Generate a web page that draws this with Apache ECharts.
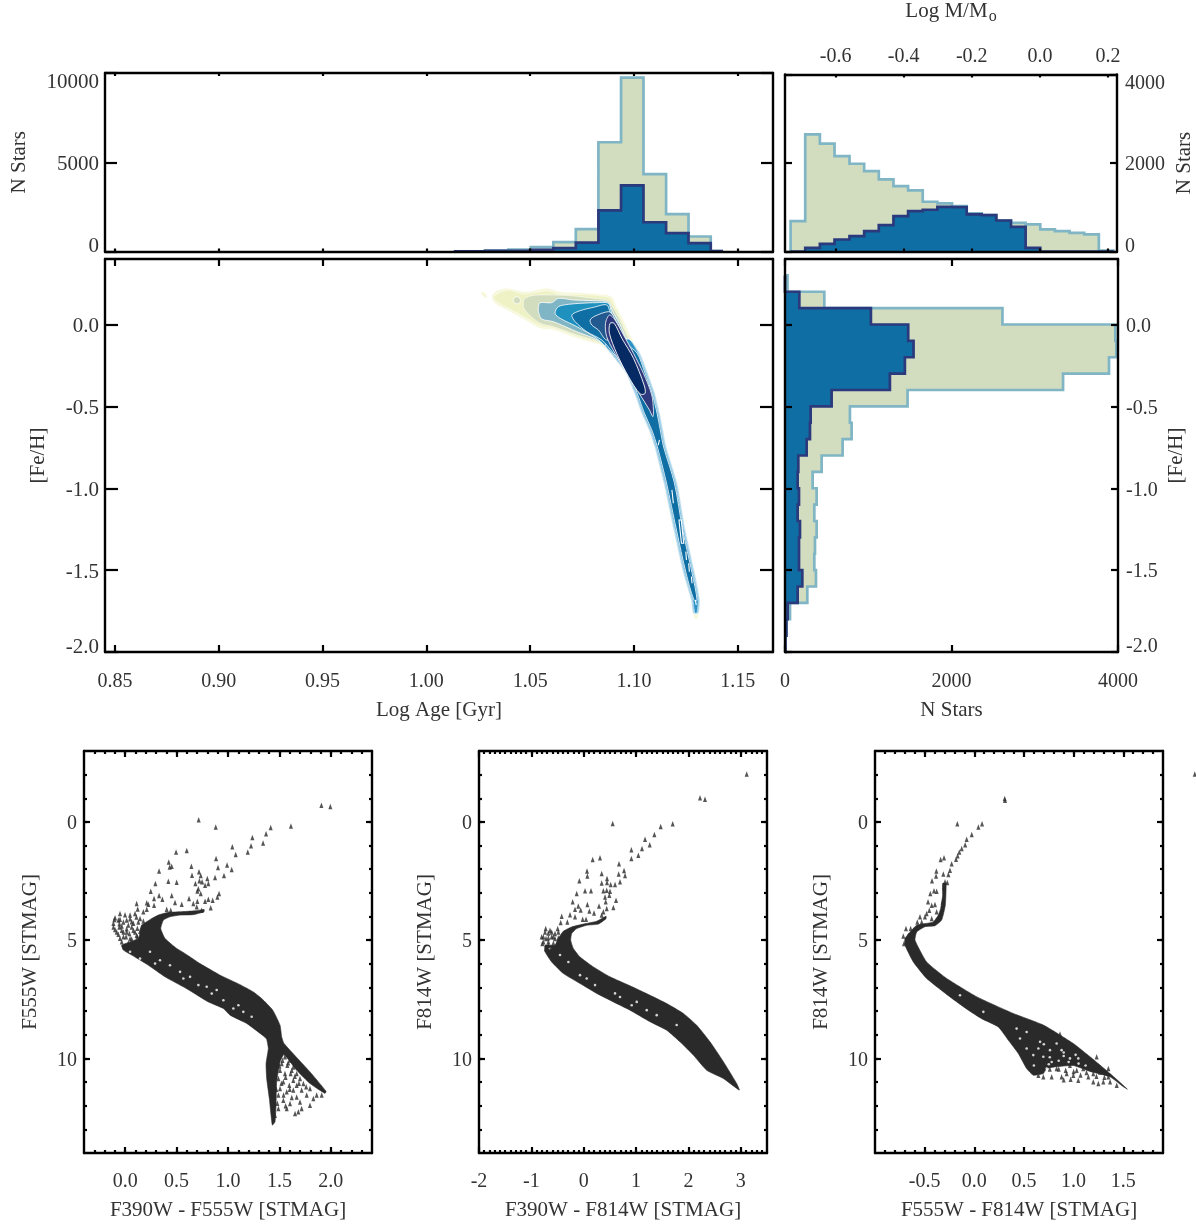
<!DOCTYPE html>
<html><head><meta charset="utf-8">
<style>html,body{margin:0;padding:0;background:#fff}#c{width:1196px;height:1226px}</style>
<script src="https://cdn.jsdelivr.net/npm/echarts@6/dist/echarts.min.js"></script>
</head><body><div id="c"></div>
<script>
// ---------- histogram data ----------
const ageEdges=[1.0139,1.0283,1.0395,1.0503,1.0612,1.0720,1.0829,1.0938,1.1046,1.1155,1.1263,1.1370,1.1423];
const ageAll=[15,55,110,240,520,1250,6120,9740,4330,2090,840,20];
const ageSel=[15,30,35,90,185,500,2300,3700,1640,1025,465,20];
const massEdges=[-0.732,-0.689,-0.646,-0.603,-0.559,-0.516,-0.473,-0.430,-0.387,-0.344,-0.301,-0.258,-0.215,-0.171,-0.128,-0.085,-0.042,0.001,0.044,0.087,0.130,0.173,0.216];
const massAll=[686,2647,2436,2157,1983,1817,1629,1478,1380,1124,1086,1026,860,822,700,649,611,498,460,422,385,20];
const massSel=[0,83,173,271,347,460,596,800,912,943,1010,1003,837,822,701,558,83,0,0,0,0,0];
const fehEdges=[0.3,0.2,0.1,0,-0.1,-0.2,-0.3,-0.4,-0.5,-0.6,-0.7,-0.8,-0.9,-1.0,-1.1,-1.2,-1.3,-1.4,-1.5,-1.6,-1.7,-1.8,-1.9,-2.0];
const fehAll=[30,472,2612,3968,3980,3892,3340,1472,780,800,692,440,332,380,352,380,360,352,372,268,60,20,5];
const fehSel=[0,172,1032,1480,1544,1440,1260,560,308,300,260,160,152,168,152,180,168,168,208,152,32,16,5];

// ---------- tick values ----------
const ageTicks=[0.85,0.90,0.95,1.00,1.05,1.10,1.15];
const fehTicks=[-2.0,-1.5,-1.0,-0.5,0.0];
const nAgeTicks=[0,5000,10000];
const nMassTicks=[0,2000,4000];
const massTicks=[-0.6,-0.4,-0.2,0.0,0.2];
const cmdMagTicks=[0,5,10];
const cmdATicks=[0.0,0.5,1.0,1.5,2.0];
const cmdBTicks=[-2,-1,0,1,2,3];
const cmdCTicks=[-0.5,0.0,0.5,1.0,1.5];

// ---------- age / metallicity density contours ----------
const ridgeFeh=[-0.174,-0.296,-0.418,-0.540,-0.644,-0.748,-0.968,-1.255,-1.517,-1.682,-1.762];
const ridgeLeft=[1.0885,1.0959,1.1000,1.1035,1.1071,1.1098,1.1142,1.1190,1.1236,1.1274,1.1284];
const ridgeRight=[1.1030,1.1068,1.1102,1.1126,1.1142,1.1158,1.1210,1.1250,1.1295,1.1319,1.1313];
const ridgeTip=[[1.1300,-1.805]];
const levelInsets=[0,0.0001,0.0002,0.0003,0.0005,0.0015];
const ridgeHaloInsets=[0.00022,0.00058,0.00095];
const ridgeHaloColors=['#6DB9DF','#45A3D4','#2B92C6'];
const ridgeHaloTop=[[1.0976,-0.09]];
const ridgeHaloBottom=[[1.0862,-0.125]];
const levelATop=[[1.0315,0.170],[1.0331,0.2005],[1.0388,0.221],[1.0468,0.2005],[1.0516,0.2066],[1.0580,0.221],[1.0645,0.2005],[1.0741,0.194],[1.0837,0.186],[1.0893,0.170],[1.0917,0.109],[1.0950,0.0275],[1.0990,-0.0845]];
const levelABottom=[[1.0853,-0.139],[1.0837,-0.125],[1.0725,-0.0845],[1.0612,-0.0336],[1.0548,-0.0234],[1.0476,0.0275],[1.0404,0.0784],[1.0331,0.129]];
const levelBTop=[[1.0323,0.170],[1.0347,0.190],[1.0396,0.2107],[1.0468,0.186],[1.0516,0.194],[1.0580,0.2066],[1.0645,0.186],[1.0741,0.184],[1.0837,0.176],[1.0885,0.160],[1.0911,0.105],[1.0943,0.0234],[1.0983,-0.0845]];
const levelBBottom=[[1.0845,-0.125],[1.0725,-0.0743],[1.0612,-0.0234],[1.0548,-0.0092],[1.0476,0.0438],[1.0404,0.0926],[1.0339,0.1394]];
const levelCTop=[[1.0468,0.129],[1.0471,0.1537],[1.0508,0.176],[1.0580,0.180],[1.0693,0.176],[1.0805,0.160],[1.0877,0.1455],[1.0905,0.0926],[1.0937,0.0173],[1.0977,-0.0906]];
const levelCBottom=[[1.0837,-0.1109],[1.0725,-0.0641],[1.0612,-0.0132],[1.0548,0.0071],[1.0492,0.0641],[1.0468,0.1048]];
const levelDTop=[[1.0540,0.1089],[1.0548,0.1333],[1.0604,0.1333],[1.0636,0.1598],[1.0709,0.1496],[1.0805,0.1455],[1.0877,0.1354],[1.0898,0.0784],[1.0930,0.0071],[1.0970,-0.0987]];
const levelDBottom=[[1.0829,-0.0987],[1.0725,-0.0438],[1.0612,0.0173],[1.0556,0.0336],[1.0540,0.0784]];
const levelETop=[[1.0620,0.0682],[1.0636,0.1089],[1.0685,0.1232],[1.0741,0.1293],[1.0821,0.1333],[1.0877,0.1293],[1.0893,0.0682],[1.0924,-0.0031],[1.0964,-0.1048]];
const levelEBottom=[[1.0821,-0.0845],[1.0725,-0.0132],[1.0645,0.0377]];
const levelFTop=[[1.0701,0.058],[1.0741,0.0845],[1.0805,0.1048],[1.0869,0.1191],[1.0889,0.058],[1.0917,-0.0132],[1.0958,-0.1109]];
const levelFBottom=[[1.0845,-0.0947],[1.0773,-0.0438],[1.0717,0.0173]];
const levelG=[[1.0789,0.0275],[1.0813,0.0519],[1.0877,0.0784],[1.0898,0.058],[1.0925,-0.0132],[1.0950,-0.0743],[1.0869,-0.0947],[1.0829,-0.0336],[1.0797,-0.0031]];
const levelH=[[1.0882,0.058],[1.0909,0.0275],[1.0950,-0.0641],[1.0998,-0.1761],[1.1046,-0.2982],[1.1086,-0.4305],[1.1094,-0.5221],[1.1091,-0.5628],[1.1075,-0.5221],[1.1030,-0.4305],[1.0966,-0.2982],[1.0909,-0.1761],[1.0869,-0.0743],[1.0863,0.0071]];
const levelI=[[1.0885,0.0071],[1.0905,0.0071],[1.0942,-0.0845],[1.0998,-0.2066],[1.1049,-0.3695],[1.1054,-0.4203],[1.1030,-0.4244],[1.0974,-0.3186],[1.0917,-0.1761],[1.0882,-0.0539]];
const outlierBlob=[[1.0262,0.194],[1.0278,0.198],[1.0294,0.170],[1.0288,0.160],[1.0273,0.174]];
const sageIsland=[[1.0420,0.1537],[1.0436,0.170],[1.0452,0.1537],[1.0449,0.1333],[1.0428,0.129]];
const ridgeIslands=[
 [[1.1123,-0.705],[1.1117,-0.736]],
 [[1.1183,-1.010],[1.1190,-1.092]],
 [[1.1217,-1.194],[1.1228,-1.194],[1.1240,-1.336],[1.1229,-1.336]],
 [[1.1250,-1.387],[1.1253,-1.438]],
 [[1.1264,-1.458],[1.1267,-1.510]],
 [[1.1277,-1.540],[1.1280,-1.580]],
 [[1.1296,-1.682],[1.1300,-1.713]]
];

// ---------- colour-magnitude diagrams ----------
const cmdAStars=[[1.908,-0.71],[1.995,-0.65],[0.715,-0.09],[0.881,0.21],[1.415,0.24],[1.612,0.17],[1.237,0.66],[1.370,0.50],[1.341,0.89],[1.224,1.01],[1.042,1.05],[1.075,1.38],[1.192,1.27],[0.884,1.55],[0.495,1.27],[0.599,1.21],[0.424,1.69],[0.453,1.87],[0.433,1.91],[0.644,1.87],[0.330,2.07],[0.903,1.93],[0.991,1.82],[1.036,2.01],[0.961,2.27],[0.874,2.35],[0.650,2.25],[0.718,2.11],[0.735,2.27],[0.294,2.60],[0.420,2.51],[0.501,2.55],[0.683,2.60],[0.722,2.49],[0.748,2.53],[0.799,2.39],[0.809,2.60],[0.777,2.68],[0.712,2.82],[0.702,2.92],[0.735,3.03],[0.249,2.93],[0.330,3.11],[0.453,3.11],[0.362,3.27],[0.281,3.24],[0.621,3.24],[0.913,3.03],[0.897,3.17],[0.851,3.31],[0.809,3.27],[0.777,3.35],[0.702,3.35],[0.663,3.45],[0.112,3.45],[0.122,3.68],[0.210,3.42],[0.226,3.48],[0.281,3.52],[0.485,3.41],[0.550,3.48],[0.832,3.63],[0.744,3.73],[0.696,3.59],[0.210,3.69],[0.404,3.69],[0.443,3.73],[-0.050,3.87],[-0.001,3.92],[0.048,3.94],[0.096,3.87],[0.177,3.80],[-0.105,4.13],[-0.066,4.15],[-0.114,4.44],[-0.056,4.44],[0.064,4.22],[0.015,4.15],[-0.033,4.58],[0.015,4.65],[-0.082,4.65],[0.080,4.58],[-0.017,4.86],[0.048,4.93],[0.112,4.79],
 [-0.098,4.05],[-0.050,4.12],[0.048,4.09],[0.110,4.02],[0.145,4.08],
 [-0.114,4.28],[-0.056,4.31],[-0.017,4.23],[0.031,4.36],[0.080,4.28],[0.128,4.23],[0.177,4.19],
 [-0.098,4.55],[-0.033,4.40],[0.015,4.52],[0.064,4.44],[0.119,4.50],[0.161,4.44],
 [-0.066,4.75],[-0.017,4.65],[0.041,4.72],[0.096,4.65],[0.145,4.62],
 [-0.050,4.92],[0.009,4.86],[0.064,4.95],[0.119,4.86],
 [-0.033,5.07],[0.031,5.12],[0.096,5.07],[0.145,5.03],
 [1.506,9.86],[1.554,9.93],[1.603,10.07],[1.522,10.22],[1.577,10.29],[1.635,10.36],[1.668,10.64],[1.506,10.50],[1.554,10.64],[1.609,10.64],[1.700,10.85],[1.635,10.92],[1.490,10.85],[1.538,10.99],[1.596,11.13],[1.668,11.13],[1.733,11.06],[1.506,11.27],[1.571,11.41],[1.635,11.34],[1.716,11.34],[1.797,11.27],[1.862,11.55],[1.911,11.55],[1.490,11.55],[1.538,11.77],[1.603,11.91],[1.668,11.63],[1.797,11.98],[1.716,12.12],[1.652,12.33],[1.684,12.26],[1.571,12.12],[1.490,12.12],[1.457,12.40],[1.830,11.70],[1.765,11.55],[1.700,11.84],
 [1.530,10.08],[1.585,10.18],[1.500,10.32],[1.620,10.50],[1.560,10.80],[1.650,10.75],[1.520,11.05],[1.600,11.30],[1.690,11.05],[1.760,11.20],[1.540,11.55],[1.620,11.65],[1.470,11.30],[1.480,11.90],[1.560,12.00]];
const cmdABand=[[0.767,3.70],[0.680,3.76],[0.534,3.80],[0.411,3.83],[0.323,3.94],[0.249,4.11],[0.161,4.37],[0.129,4.93],[-0.033,5.21],[-0.017,5.42],[0.096,5.71],[0.226,6.06],[0.388,6.55],[0.598,7.05],[0.809,7.61],[0.955,7.89],[1.020,8.17],[1.182,8.52],[1.344,9.05],[1.376,9.19],[1.392,9.58],[1.370,10.22],[1.376,10.85],[1.402,11.70],[1.431,12.82],[1.457,12.68],[1.467,11.98],[1.473,10.99],[1.506,10.15],[1.545,9.84],[1.668,10.50],[1.797,11.06],[1.943,11.48],[1.953,11.39],[1.797,10.57],[1.545,9.37],[1.522,9.09],[1.506,8.60],[1.435,7.96],[1.328,7.47],[1.247,7.19],[1.117,6.88],[0.923,6.48],[0.728,5.99],[0.566,5.52],[0.501,5.35],[0.388,4.93],[0.346,4.51],[0.372,4.15],[0.436,4.01],[0.534,3.94],[0.663,3.92],[0.767,3.80]];
const cmdAGaps=[[0.242,5.49],[0.339,5.85],[0.436,6.06],[0.566,6.62],[0.631,6.55],[0.793,6.97],[0.842,7.26],[0.955,7.54],[1.052,7.89],[1.149,8.03],[1.230,8.24],[0.048,5.49],[0.145,5.78],[0.534,6.34],[0.291,5.99],[0.712,6.90],[0.890,7.11],[1.101,7.75]];

const cmdBStars=[[3.112,-2.03],[2.221,-1.02],[2.316,-0.96],[0.553,0.07],[1.699,0.08],[1.470,0.19],[1.349,0.53],[1.171,0.73],[1.260,0.96],[1.113,1.12],[0.910,1.18],[0.910,1.55],[1.043,1.41],[0.674,1.77],[0.311,1.51],[0.171,1.59],[0.063,2.07],[0.070,2.29],[0.343,2.18],[0.668,2.20],[0.770,2.05],[0.789,2.27],[0.693,2.53],[0.598,2.65],[-0.084,2.49],[0.343,2.58],[0.445,2.39],[0.445,2.56],[0.515,2.65],[-0.134,3.03],[0.025,2.91],[0.139,2.91],[0.375,2.91],[0.439,2.89],[0.502,2.93],[0.407,3.17],[0.489,3.10],[-0.211,3.38],[-0.103,3.56],[0.070,3.49],[-0.166,3.69],[-0.058,3.72],[0.108,3.77],[0.197,3.85],[0.292,3.56],[0.420,3.38],[0.617,3.31],[0.566,3.62],[-0.262,3.92],[-0.166,4.01],[-0.421,3.99],[-0.440,4.25],[-0.313,4.23],[-0.020,4.11],[0.044,4.11],[-0.497,4.51],[-0.726,4.51],[-0.644,4.58],[-0.803,4.86],[-0.720,4.93],[-0.612,4.86],[-0.790,5.14],[-0.675,5.21],[-0.548,4.93],[0.375,3.80],[0.439,3.66],[0.343,3.94],
 [-0.739,4.65],[-0.675,4.70],[-0.612,4.65],[-0.548,4.72],[-0.484,4.65],
 [-0.771,4.86],[-0.675,4.90],[-0.580,4.86],[-0.484,4.90],
 [-0.771,5.07],[-0.675,5.07],[-0.580,5.12],[-0.503,5.07],
 [-0.720,5.35],[-0.631,5.35],[-0.529,5.35]];
const cmdBBand=[[0.426,3.99],[0.248,4.20],[-0.007,4.32],[-0.230,4.44],[-0.389,4.62],[-0.466,4.86],[-0.548,5.21],[-0.739,5.21],[-0.739,5.49],[-0.612,5.92],[-0.389,6.41],[-0.071,6.83],[0.248,7.25],[0.566,7.61],[0.884,7.96],[1.267,8.45],[1.585,8.81],[1.839,9.30],[2.093,9.86],[2.348,10.50],[2.667,10.85],[2.971,11.34],[2.921,11.06],[2.667,10.14],[2.412,9.30],[2.158,8.60],[1.903,8.10],[1.585,7.68],[1.267,7.33],[0.884,6.93],[0.502,6.55],[0.184,6.13],[-0.071,5.71],[-0.198,5.35],[-0.249,5.00],[-0.230,4.72],[-0.134,4.51],[0.057,4.37],[0.280,4.32],[0.426,4.09]];
const cmdBGaps=[[-0.453,5.63],[-0.293,5.92],[-0.071,6.48],[0.216,6.90],[0.598,7.25],[0.693,7.40],[0.916,7.75],[1.203,7.96],[1.394,8.17],[1.775,8.59],[-0.644,5.35],[0.057,6.62],[1.012,7.61]];

const cmdCStars=[[0.306,-0.99],[0.309,-0.92],[-0.171,0.08],[0.078,0.08],[0.041,0.21],[-0.026,0.53],[-0.077,0.73],[-0.092,0.96],[-0.127,1.12],[-0.151,1.27],[-0.168,1.43],[-0.184,1.58],[-0.305,1.51],[-0.339,1.59],[-0.228,1.77],[-0.245,2.04],[-0.261,2.22],[-0.382,2.07],[-0.385,2.29],[-0.312,2.20],[-0.426,2.49],[-0.295,2.53],[-0.272,2.56],[-0.305,2.74],[-0.443,3.03],[-0.406,2.91],[-0.379,2.93],[-0.466,3.38],[-0.429,3.52],[-0.453,3.73],[-0.396,3.49],[-0.319,3.38],[-0.379,3.80],[-0.480,3.87],[-0.497,4.01],[-0.547,4.01],[-0.574,4.23],[-0.530,4.23],[-0.429,4.08],[-0.688,4.51],[-0.641,4.51],[-0.614,4.58],[-0.715,4.82],[-0.664,4.79],[-0.708,5.14],[1.232,9.93],[1.350,10.43],[0.863,8.97],[2.22,-2.03],
 [0.829,10.43],[0.879,10.78],[0.930,10.64],[0.963,10.29],[1.031,10.50],[1.047,10.92],[1.097,10.43],[1.148,10.78],[1.198,10.99],[1.249,11.06],[1.299,10.99],[0.779,10.78],[0.896,10.15],[1.097,10.15],[0.997,10.71],[1.367,10.99],[1.434,11.13],[0.645,10.71],[0.695,10.78],[1.198,10.64],[1.265,10.57],[1.350,10.78],
 [0.760,10.45],[0.850,10.45],[0.920,10.50],[1.000,10.55],[1.070,10.70],[1.130,10.60],[1.230,10.75],[1.310,10.80],[0.970,10.88],[0.900,10.90]];
const cmdCBand=[[-0.285,2.60],[-0.292,3.52],[-0.329,4.15],[-0.396,4.39],[-0.496,4.43],[-0.580,4.65],[-0.597,5.00],[-0.480,5.92],[-0.278,6.62],[0.023,7.39],[0.393,8.10],[0.695,8.59],[0.997,9.37],[1.165,9.93],[1.367,10.64],[1.541,11.30],[1.501,11.20],[1.367,10.78],[1.165,10.55],[0.997,10.30],[0.829,10.35],[0.729,10.42],[0.695,10.64],[0.594,10.71],[0.527,10.43],[0.443,9.79],[0.343,9.23],[0.242,8.67],[0.074,8.32],[-0.060,7.96],[-0.245,7.40],[-0.480,6.62],[-0.614,5.92],[-0.698,5.21],[-0.698,4.93],[-0.630,4.58],[-0.580,4.37],[-0.496,4.30],[-0.413,4.23],[-0.362,3.94],[-0.339,3.66],[-0.319,3.10],[-0.319,2.60]];
const cmdCGaps=[[0.662,9.30],[0.762,9.65],[0.879,9.65],[0.645,9.58],[0.527,8.88],[0.426,8.74],[0.695,9.93],[0.779,10.15],[0.963,10.0],[1.047,10.0],[0.594,9.86],[0.729,10.43],[-0.144,7.33],[0.091,8.03],[0.829,9.37],[0.527,9.58],[0.460,9.16],[0.900,9.90],[0.760,9.95],[0.600,10.30],[0.700,9.40],[0.850,10.10],[0.950,10.15],[1.050,10.22],[0.750,10.25],[0.900,9.75],[1.120,10.30],[1.020,9.85]];

// ---------- styling ----------
const FONT='Liberation Serif', TXT='#333', INK='#2a2a2a';
const LIGHT_FILL='#D2DDBF', LIGHT_LINE='#7FB5C4', DARK_FILL='#0F6EA3', DARK_LINE='#2A3A7C';
const LEVEL_COLORS=['#F6F7D8','#EFF2C4','#D2DDBF','#7FB5C4','#1E91BF','#0F6EA3'];

const grids=[],xAxes=[],yAxes=[],series=[];
function steps(a,b,s){const o=[];const n=Math.round((b-a)/s);for(let i=1;i<n;i++)o.push(+(a+i*s).toFixed(3));return o;}

function axisDef(kind,gridIndex,pos,range,inv,ticks,tickLen,opt){
  opt=opt||{};
  const fs=opt.fontSize||20;
  const txt=v=>opt.dec===undefined?String(v):Number(v).toFixed(opt.dec);
  const a={type:'value',gridIndex,position:pos,min:range[0],max:range[1],inverse:!!inv,z:5,
    splitLine:{show:false},silent:true,
    axisLine:{show:opt.hideLine?false:true,onZero:false,lineStyle:{color:'#000',width:2.4}},
    axisTick:{show:true,inside:true,length:tickLen,customValues:ticks,lineStyle:{color:'#000',width:2.2}},
    axisLabel:opt.labels?{show:true,customValues:opt.labels,margin:opt.margin||8,fontFamily:FONT,fontSize:fs,color:TXT,
      hideOverlap:false,showMinLabel:true,showMaxLabel:true,
      formatter:kind==='y'?(v=>'{t|'+txt(v)+'}'):txt,
      ...(kind==='y'?{rich:{t:{fontFamily:FONT,fontSize:fs,color:TXT,lineHeight:14,padding:[4,0,0,0]}}}:{}),
      ...(opt.labelExtra||{})}:{show:false}};
  if(opt.name){a.name=opt.name;a.nameLocation='middle';a.nameGap=opt.nameGap;
    a.nameTextStyle={fontFamily:FONT,fontSize:opt.nameSize||21,color:TXT,...(opt.nameStyle||{})};
    if(kind==='y')a.nameRotate=90;}
  (kind==='x'?xAxes:yAxes).push(a);
  return (kind==='x'?xAxes:yAxes).length-1;
}
function panel(r,xr,yr,o){
  const g=grids.length;
  grids.push({left:r[0],top:r[1],width:r[2],height:r[3],containLabel:false});
  const xi=axisDef('x',g,'bottom',xr,false,o.xTicks,o.xLen,o.xBottom);
  axisDef('x',g,'top',xr,false,o.xTicks,o.xLen,o.xTop);
  const yi=axisDef('y',g,'left',yr,o.invY,o.yTicks,o.yLen,o.yLeft);
  axisDef('y',g,'right',yr,o.invY,o.yTicks,o.yLen,o.yRight);
  if(o.xMinor){
    axisDef('x',g,'bottom',xr,false,o.xMinor,3,{hideLine:true});
    axisDef('x',g,'top',xr,false,o.xMinor,3,{hideLine:true});
  }
  if(o.yMinor){
    axisDef('y',g,'left',yr,o.invY,o.yMinor,3,{hideLine:true});
    axisDef('y',g,'right',yr,o.invY,o.yMinor,3,{hideLine:true});
  }
  return {xi,yi};
}
function shape(name,pts,ax,fill,stroke,lw,closed,z,smooth){
  series.push({type:'custom',name,coordinateSystem:'cartesian2d',xAxisIndex:ax.xi,yAxisIndex:ax.yi,
    data:pts,encode:{x:0,y:1},silent:true,animation:false,z:z||2,clip:false,
    renderItem:(p,api)=>{
      if(p.dataIndex!==0)return null;
      const s={points:pts.map(q=>api.coord(q))};
      if(smooth)s.smooth=smooth;
      return {type:closed?'polygon':'polyline',shape:s,
        style:{fill:closed?fill:'none',stroke,lineWidth:lw,lineJoin:'miter'}};
    }});
}
function stepPts(edges,vals,horizontal){
  const o=[[edges[0],0]];
  vals.forEach((v,i)=>{o.push([edges[i],v]);o.push([edges[i+1],v]);});
  o.push([edges[vals.length],0]);
  return horizontal?o.map(p=>[p[1],p[0]]):o;
}
function hist(nameTag,edges,all,sel,ax,horizontal){
  const a=stepPts(edges,all,horizontal),b=stepPts(edges,sel,horizontal);
  shape(nameTag+' all fill',a,ax,LIGHT_FILL,'none',0,true,2);
  shape(nameTag+' all',a,ax,'none',LIGHT_LINE,2.7,false,2);
  shape(nameTag+' selected fill',b,ax,DARK_FILL,'none',0,true,3);
  shape(nameTag+' selected',b,ax,'none',DARK_LINE,2.7,false,3);
}
function level(top,bottom,inset,tip){
  const right=[],left=[];
  ridgeFeh.forEach((f,i)=>{
    if((ridgeRight[i]-ridgeLeft[i])/2>inset+0.00012){
      right.push([ridgeRight[i]-inset,f]);
      left.unshift([ridgeLeft[i]+inset,f]);
    }
  });
  return top.concat(right,tip||[],left,bottom);
}

// ---------- panels ----------
const AGE_R=[0.8452,1.167], FEH_R=[-2,0.4], MASS_R=[-0.7484,0.2263];

const pAge=panel([105,73,668,178.5],AGE_R,[0,10000],{xTicks:ageTicks,xLen:3,yTicks:nAgeTicks,yLen:12,
  yLeft:{labels:nAgeTicks,margin:6,fontSize:21,name:'N Stars',nameGap:75,
    labelExtra:{verticalAlignMinLabel:'bottom',verticalAlignMaxLabel:'top'}}});
const pMass=panel([785,73,333,178.5],MASS_R,[0,4000],{xTicks:massTicks,xLen:3,yTicks:nMassTicks,yLen:7,
  xTop:{labels:massTicks,dec:1,margin:8,name:'Log M/M{sub|o}',nameGap:50,
    nameStyle:{rich:{sub:{fontFamily:FONT,fontSize:16,color:TXT,padding:[10,0,0,1]}}}},
  yRight:{labels:nMassTicks,margin:8,name:'N Stars',nameGap:57,
    labelExtra:{verticalAlignMinLabel:'bottom',verticalAlignMaxLabel:'top'}}});
const pMain=panel([105,259,668,393],AGE_R,FEH_R,{xTicks:ageTicks,xLen:7,yTicks:fehTicks,yLen:13,
  xBottom:{labels:ageTicks,dec:2,margin:20,name:'Log Age [Gyr]',nameGap:48},
  yLeft:{labels:fehTicks,dec:1,margin:6,fontSize:21,name:'[Fe/H]',nameGap:56,labelExtra:{verticalAlignMinLabel:'bottom'}}});
const pFeh=panel([785,259,333,393],[0,4000],FEH_R,{xTicks:nMassTicks,xLen:7,yTicks:fehTicks,yLen:7,
  xBottom:{labels:nMassTicks,margin:20,name:'N Stars',nameGap:48},
  yRight:{labels:fehTicks,dec:1,margin:8,name:'[Fe/H]',nameGap:48,labelExtra:{verticalAlignMinLabel:'bottom'}}});

const MAG_R=[-3,14], magMinor=steps(-3,14,1);
const pA=panel([84,751,288,402],[-0.4,2.4],MAG_R,{invY:true,xTicks:cmdATicks,xLen:6,yTicks:cmdMagTicks,yLen:6,
  xMinor:steps(-0.4,2.4,0.1),yMinor:magMinor,
  xBottom:{labels:cmdATicks,dec:1,margin:19,name:'F390W - F555W [STMAG]',nameGap:47},
  yLeft:{labels:cmdMagTicks,margin:7,name:'F555W [STMAG]',nameGap:43}});
const pB=panel([479,751,288,402],[-2,3.5],MAG_R,{invY:true,xTicks:cmdBTicks,xLen:6,yTicks:cmdMagTicks,yLen:6,
  xMinor:steps(-2,3.5,0.1),yMinor:magMinor,
  xBottom:{labels:cmdBTicks,margin:19,name:'F390W - F814W [STMAG]',nameGap:47},
  yLeft:{labels:cmdMagTicks,margin:7,name:'F814W [STMAG]',nameGap:43}});
const pC=panel([875,751,288,402],[-1,1.9],MAG_R,{invY:true,xTicks:cmdCTicks,xLen:6,yTicks:cmdMagTicks,yLen:6,
  xMinor:steps(-1,1.9,0.1),yMinor:magMinor,
  xBottom:{labels:cmdCTicks,dec:1,margin:19,name:'F555W - F814W [STMAG]',nameGap:47},
  yLeft:{labels:cmdMagTicks,margin:7,name:'F814W [STMAG]',nameGap:43}});

// ---------- marks ----------
hist('age',ageEdges,ageAll,ageSel,pAge,false);
hist('mass',massEdges,massAll,massSel,pMass,false);
hist('feh',fehEdges,fehAll,fehSel,pFeh,true);

const W='#ffffff';
shape('blob',outlierBlob,pMain,LEVEL_COLORS[0],W,0.6,true,2,0.4);
[[levelATop,levelABottom,ridgeTip],[levelBTop,levelBBottom],[levelCTop,levelCBottom],[levelDTop,levelDBottom],[levelETop,levelEBottom],[levelFTop,levelFBottom]]
 .forEach((l,i)=>shape('level '+i,level(l[0],l[1],levelInsets[i],l[2]),pMain,LEVEL_COLORS[i],W,i<3?0.5:0.8,true,2+i*0.01*(i<5?1:3),0.3));
ridgeHaloInsets.forEach((d,i)=>shape('ridge halo '+i,level(ridgeHaloTop,ridgeHaloBottom,d),pMain,ridgeHaloColors[i],W,0.55,true,2.05+i*0.01,0.2));
shape('island',sageIsland,pMain,'#D2DDBF',W,0.8,true,2.1,0.5);
shape('level 6',levelG,pMain,'#22598F',W,0.8,true,2.2,0.3);
shape('level 7',levelH,pMain,'#2F3A7E',W,0.8,true,2.3,0.3);
shape('level 8',levelI,pMain,'#062A63',W,0.9,true,2.4,0.3);
ridgeIslands.forEach((p,i)=>shape('ridge island '+i,p,pMain,'#0F6EA3',W,1.1,true,2.5));

function cmd(name,ax,band,gaps,stars){
  shape(name+' band',band,ax,INK,INK,0.6,true,2,0.15);
  series.push({type:'scatter',name:name+' gaps',xAxisIndex:ax.xi,yAxisIndex:ax.yi,data:gaps,symbol:'circle',symbolSize:2.6,
    itemStyle:{color:'#fff'},silent:true,animation:false,z:3});
  series.push({type:'scatter',name:name+' stars',xAxisIndex:ax.xi,yAxisIndex:ax.yi,data:stars,symbol:'triangle',symbolSize:[4,5.5],
    itemStyle:{color:INK},silent:true,animation:false,z:4,clip:false});
}
cmd('A',pA,cmdABand,cmdAGaps,cmdAStars);
cmd('B',pB,cmdBBand,cmdBGaps,cmdBStars);
cmd('C',pC,cmdCBand,cmdCGaps,cmdCStars);

const chart=echarts.init(document.getElementById('c'),null,{renderer:'canvas'});
chart.setOption({backgroundColor:'#fff',animation:false,grid:grids,xAxis:xAxes,yAxis:yAxes,series});
</script></body></html>
